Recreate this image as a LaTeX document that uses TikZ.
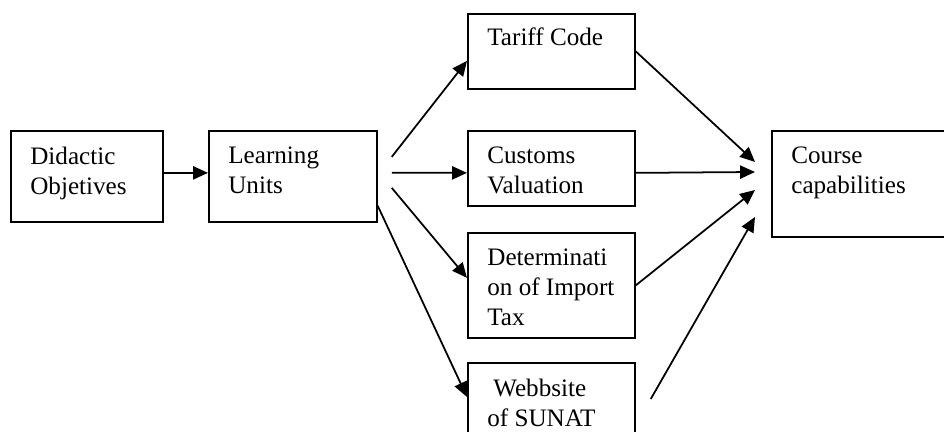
\documentclass[tikz,border=0pt]{standalone}
\usepackage{fontspec}
\setmainfont{Liberation Serif}
\usetikzlibrary{arrows.meta}

\tikzset{
	box/.style={draw, line width=1pt, anchor=north west, inner sep=0pt, minimum width=3.34cm},
	txt/.style={anchor=north west, inner sep=0pt, align=left, font=\fontsize{14.3}{17}\selectfont, xshift=0.4cm, yshift=-0.33cm},
	flow/.style={-{Triangle[length=8.5pt,width=7.5pt]}, line width=1pt}
}

\begin{document}
\begin{tikzpicture}
	\useasboundingbox (0,0) rectangle (18.88,8.64);
	\node[box, minimum width=3.04cm, minimum height=1.82cm, label={[txt]north west:Didactic\\Objetives}] (dido) at (0.2,6.04) {};
	\node[box, minimum width=3.36cm, minimum height=1.82cm, label={[txt]north west:Learning\\Units}] (lu) at (4.16,6.04) {};
	\node[box, minimum height=1.5cm, label={[txt, yshift=0.04cm]north west:Tariff Code}] (tariff) at (9.34,8.38) {};
	\node[box, minimum height=1.5cm, label={[txt]north west:Customs\\Valuation}] (customs) at (9.34,6.04) {};
	\node[box, minimum height=2.1cm, label={[txt]north west:Determinati\\on of Import\\Tax}] (determ) at (9.34,4.0) {};
	\node[box, minimum height=1.8cm, label={[txt]north west:\hspace{0.12cm}Webbsite\\of SUNAT}] (web) at (9.34,1.4) {};
	\node[box, minimum width=4cm, minimum height=2.12cm, label={[txt]north west:Course\\capabilities}] (course) at (15.42,6.04) {};
	\draw[flow] ([yshift=0.07cm]dido.east) -- ([yshift=0.07cm]lu.west);
	\draw[flow] ([shift={(0.28,0.39)}]lu.east) -- ([yshift=-0.19cm]tariff.west);
	\draw[flow] ([shift={(0.28,0.07)}]lu.east) -- ([yshift=-0.09cm]customs.west);
	\draw[flow] ([shift={(0.28,-0.23)}]lu.east) -- ([yshift=0.15cm]determ.west);
	\draw[flow] ([yshift=-0.59cm]lu.east) -- ([yshift=-0.7cm]web.north west);
	\draw[flow] (tariff.east) -- ([shift={(-0.32,-0.64)}]course.north west);
	\draw[flow] ([yshift=-0.09cm]customs.east) -- ([shift={(-0.32,-0.84)}]course.north west);
	\draw[flow] (determ.east) -- ([shift={(-0.32,-1.2)}]course.north west);
	\draw[flow] ([shift={(0.3,-0.74)}]web.north east) -- ([shift={(-0.32,-1.74)}]course.north west);
\end{tikzpicture}
\end{document}
